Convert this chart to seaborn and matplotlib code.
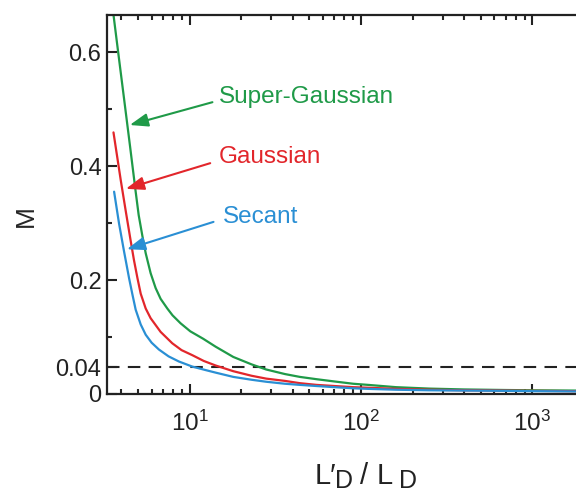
import matplotlib
matplotlib.use("Agg")
import matplotlib.pyplot as plt
import matplotlib.ticker as mticker
import seaborn as sns
import pandas as pd

# Data
sg_x = [3.55, 3.8, 4.15, 4.5, 4.85, 5.05, 5.31, 5.55, 5.93, 6.34, 6.78, 7.42, 7.96, 8.87, 10.1,
        12, 14.2, 18, 23, 28, 36, 44, 55, 70, 90, 110, 160, 250, 400, 700, 1000, 1800, 3500]
sg_m = [0.68, 0.609, 0.518, 0.434, 0.355, 0.314, 0.277, 0.247, 0.212, 0.186, 0.167, 0.150, 0.138,
        0.124, 0.110, 0.097, 0.083, 0.065, 0.052, 0.043, 0.035, 0.030, 0.026, 0.022, 0.018, 0.016,
        0.012, 0.0095, 0.008, 0.007, 0.0065, 0.006, 0.005]
ga_x = [3.6, 3.97, 4.25, 4.54, 4.74, 4.97, 5.19, 5.55, 5.93, 6.78, 7.93, 8.98, 10.4, 12.1, 14.2,
        18, 23, 28, 36, 44, 55, 70, 90, 110, 160, 250, 400, 700, 1000, 1800, 3500]
ga_m = [0.459, 0.375, 0.32, 0.268, 0.235, 0.203, 0.176, 0.150, 0.133, 0.109, 0.089, 0.077, 0.068,
        0.058, 0.050, 0.040, 0.032, 0.027, 0.023, 0.019, 0.016, 0.014, 0.012, 0.011, 0.009,
        0.0075, 0.0065, 0.006, 0.0055, 0.005, 0.0045]
se_x = [3.63, 3.88, 4.15, 4.44, 4.64, 4.85, 5.19, 5.55, 6.01, 6.63, 7.55, 8.67, 10.4, 12.4, 14.2,
        18, 23, 28, 36, 44, 55, 70, 90, 110, 160, 250, 400, 700, 1000, 1800, 3500]
se_m = [0.355, 0.299, 0.25, 0.203, 0.175, 0.148, 0.122, 0.104, 0.090, 0.078, 0.066, 0.057, 0.048,
        0.042, 0.0375, 0.030, 0.025, 0.0215, 0.018, 0.016, 0.014, 0.012, 0.010, 0.009, 0.0075,
        0.0065, 0.006, 0.0055, 0.005, 0.0045, 0.004]
threshold = 0.047
names = ["Super-Gaussian", "Gaussian", "Secant"]
colors = ["#1f9a48", "#e2262b", "#2a8fd4"]
ytick_vals = [0, threshold, 0.2, 0.4, 0.6]
ytick_labels = ["0", "0.04", "0.2", "0.4", "0.6"]
xtick_vals = [10, 100, 1000]

sns.set_style("ticks")
plt.rcParams["font.family"] = ["Liberation Sans", "DejaVu Sans"]
plt.rcParams["mathtext.fontset"] = "custom"
plt.rcParams["mathtext.rm"] = "Liberation Sans"
plt.rcParams["mathtext.it"] = "Liberation Sans"

df = pd.concat([
    pd.DataFrame({"x": xs, "M": ms, "pulse": n})
    for n, xs, ms in zip(names, [sg_x, ga_x, se_x], [sg_m, ga_m, se_m])
])

W, H = 576, 492
fig = plt.figure(figsize=(W / 100, H / 100), dpi=100)
ax = fig.add_axes([107 / W, 1 - 394 / H, (625 - 107) / W, (394 - 15) / H])

sns.lineplot(data=df, x="x", y="M", hue="pulse", palette=dict(zip(names, colors)),
             ax=ax, legend=False, linewidth=1.6, sort=False)
ax.axhline(threshold, color="#222222", lw=1.5, ls=(0, (6, 4)), zorder=1)

ax.set_xscale("log")
ax.set_xlim(3.3, 3470)
ax.set_ylim(0, 0.665)

ax.xaxis.set_major_locator(mticker.FixedLocator(xtick_vals))
ax.xaxis.set_major_formatter(mticker.LogFormatterSciNotation())
ax.xaxis.set_minor_locator(mticker.LogLocator(base=10, subs=range(2, 10), numticks=20))
ax.xaxis.set_minor_formatter(mticker.NullFormatter())
ax.set_yticks(ytick_vals)
ax.set_yticklabels(ytick_labels)
ax.set_yticks([0.1, 0.3, 0.5], minor=True)

ax.tick_params(axis="both", which="major", direction="in", length=7, width=1.5,
               labelsize=17, colors="#222222", top=True, right=True, pad=4)
ax.tick_params(axis="both", which="minor", direction="in", length=3.5, width=1.5,
               top=True, right=True)
ax.tick_params(axis="x", which="major", labelsize=17.5, pad=12)

for s in ["left", "bottom", "top", "right"]:
    ax.spines[s].set_linewidth(1.6)
    ax.spines[s].set_color("#222222")

ax.set_ylabel("M", fontsize=19)
ax.yaxis.set_label_coords(-0.133, 0.47)
ax.set_xlabel("")

# x-axis label composed of pieces with large subscripts
def ftext(px, py, s, size):
    fig.text(px / W, 1 - py / H, s, fontsize=size, color="#222222", va="baseline", ha="left")

ftext(315, 484, "L\u2032", 21)
ftext(335, 488, "D", 18)
ftext(360, 484, "/", 21)
ftext(377, 484, "L", 21)
ftext(399, 488, "D", 18)

# annotations
ann = [
    ("Super-Gaussian", (4.48, 0.472), (13.6, 0.512), (14.8, 0.521)),
    ("Gaussian", (4.25, 0.360), (13.2, 0.405), (14.9, 0.416)),
    ("Secant", (4.31, 0.254), (13.8, 0.302), (15.7, 0.311)),
]
for (name, tip, tail, txt), c in zip(ann, colors):
    ax.annotate("", xy=tip, xytext=tail,
                arrowprops=dict(arrowstyle="-|>,head_length=1.1,head_width=0.4",
                                color=c, lw=1.5, shrinkA=0, shrinkB=0))
    ax.text(txt[0], txt[1], name, color=c, fontsize=17.5, va="center", ha="left")

fig.savefig("out.png", dpi=100)
